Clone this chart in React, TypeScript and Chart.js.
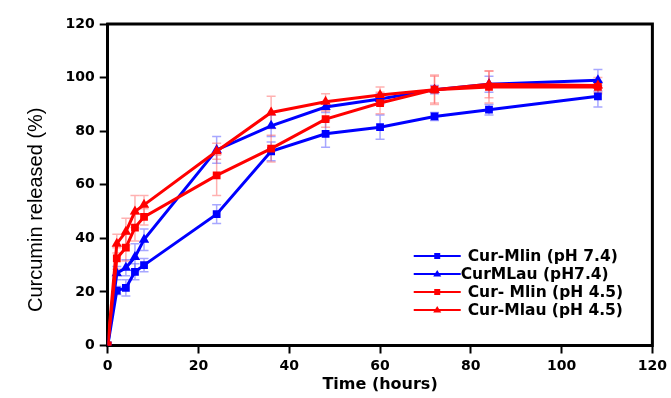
import React, { useEffect, useRef } from "react";
import { Chart, registerables } from "chart.js";

Chart.register(...registerables);

// ---- data ----
const times = [0, 2, 4, 6, 8, 24, 36, 48, 60, 72, 84, 108];
const curMlin74 = [0, 20.5, 21.5, 27.5, 30, 49, 72.5, 79, 81.5, 85.5, 88, 93];
const curMLau74 = [0, 27, 29, 33, 39.5, 73, 82, 89, 92, 95.5, 97.5, 99];
const curMlin45 = [0, 32.5, 36.5, 44, 48, 63.5, 73.5, 84.5, 90.5, 95.5, 96.5, 96.5];
const curMlau45 = [0, 38, 42.5, 50, 52.5, 72.5, 87, 91, 93.5, 95.5, 97.5, 97];

const errMlin74 = [0, 1.5, 3, 3, 2.5, 3.5, 3.5, 5, 4.5, 1.5, 2, 4];
const errMLau74 = [0, 2.5, 3, 5, 4, 5, 4, 2, 2, 1.5, 3, 4];
const errMlin45 = [0, 4, 5, 5, 3, 7.5, 5, 3, 4, 5, 6, 2];
const errMlau45 = [0, 3.5, 5, 6, 3.5, 3, 6, 3, 3, 5.5, 5, 3];

const seriesLabels = [
  "Cur-Mlin (pH 7.4)",
  "CurMLau (pH7.4)",
  "Cur- Mlin (pH 4.5)",
  "Cur-Mlau (pH 4.5)",
];
const xTickValues = [0, 20, 40, 60, 80, 100, 120];
const yTickValues = [0, 20, 40, 60, 80, 100, 120];
const xTitle = "Time (hours)";
const yTitle = "Curcumin released (%)";

const BLUE = "#0000ff";
const RED = "#ff0000";
const legendIndent = [7, 0, 7, 7];

function pts(ys: number[]) {
  return ys.map((y, i) => ({ x: times[i], y }));
}

const errorBarPlugin = {
  id: "errorBars",
  beforeDatasetsDraw(chart: any) {
    const { ctx } = chart;
    const xs = chart.scales.x;
    const ys = chart.scales.y;
    ctx.save();
    chart.data.datasets.forEach((ds: any) => {
      const errs: number[] = ds.errors || [];
      ctx.strokeStyle = ds.errColor;
      ctx.lineWidth = 1.5;
      ds.data.forEach((p: any, j: number) => {
        const e = errs[j];
        if (!e) return;
        const x = xs.getPixelForValue(p.x);
        const yt = ys.getPixelForValue(p.y + e);
        const yb = ys.getPixelForValue(p.y - e);
        ctx.beginPath();
        ctx.moveTo(x, yt);
        ctx.lineTo(x, yb);
        ctx.moveTo(x - 4.5, yt);
        ctx.lineTo(x + 4.5, yt);
        ctx.moveTo(x - 4.5, yb);
        ctx.lineTo(x + 4.5, yb);
        ctx.stroke();
      });
    });
    ctx.restore();
  },
};

const framePlugin = {
  id: "frameAndLegend",
  afterDraw(chart: any) {
    const { ctx, chartArea } = chart;
    const { left, right, top, bottom } = chartArea;
    ctx.save();
    // frame top and right
    ctx.strokeStyle = "#000";
    ctx.lineWidth = 3;
    ctx.beginPath();
    ctx.moveTo(left - 1.5, top);
    ctx.lineTo(right, top);
    ctx.lineTo(right, bottom + 1.5);
    ctx.stroke();

    // y title
    ctx.fillStyle = "#000";
    ctx.font = "20px 'Liberation Sans', Arial, sans-serif";
    ctx.textAlign = "center";
    ctx.textBaseline = "middle";
    ctx.save();
    ctx.translate(36, (top + bottom) / 2 + 25);
    ctx.rotate(-Math.PI / 2);
    ctx.fillText(yTitle, 0, 0);
    ctx.restore();

    // legend
    const lx0 = left + 306;
    const lx1 = left + 353;
    chart.data.datasets.forEach((ds: any, i: number) => {
      const y = top + 232 + i * 18;
      ctx.strokeStyle = ds.borderColor;
      ctx.fillStyle = ds.borderColor;
      ctx.lineWidth = 2;
      ctx.beginPath();
      ctx.moveTo(lx0, y);
      ctx.lineTo(lx1, y);
      ctx.stroke();
      const cx = (lx0 + lx1) / 2;
      ctx.beginPath();
      if (ds.pointStyle === "rect") {
        ctx.rect(cx - 3, y - 3, 6, 6);
      } else {
        ctx.moveTo(cx, y - 4);
        ctx.lineTo(cx + 4, y + 2.5);
        ctx.lineTo(cx - 4, y + 2.5);
        ctx.closePath();
      }
      ctx.fill();
      ctx.fillStyle = "#000";
      ctx.font = "bold 15.5px 'DejaVu Sans', sans-serif";
      ctx.textAlign = "left";
      ctx.textBaseline = "middle";
      ctx.fillText(ds.label, lx1 + legendIndent[i], y + 1);
    });
    ctx.restore();
  },
};

export default function App() {
  const ref = useRef<HTMLCanvasElement | null>(null);
  useEffect(() => {
    document.body.style.margin = "0";
    const canvas = ref.current!;
    const mk = (
      label: string,
      ys: number[],
      errs: number[],
      color: string,
      errColor: string,
      style: string,
      order: number
    ) => ({
      label,
      data: pts(ys),
      errors: errs,
      errColor,
      borderColor: color,
      backgroundColor: color,
      borderWidth: 3,
      pointStyle: style,
      pointRadius: style === "rect" ? 5.5 : 6,
      pointBorderWidth: 0,
      pointBackgroundColor: color,
      tension: 0,
      order,
    });
    const chart = new Chart(canvas, {
      type: "line",
      data: {
        datasets: [
          mk(seriesLabels[0], curMlin74, errMlin74, BLUE, "rgba(60,60,255,0.45)", "rect", 4),
          mk(seriesLabels[1], curMLau74, errMLau74, BLUE, "rgba(60,60,255,0.45)", "triangle", 3),
          mk(seriesLabels[2], curMlin45, errMlin45, RED, "rgba(255,60,60,0.4)", "rect", 2),
          mk(seriesLabels[3], curMlau45, errMlau45, RED, "rgba(255,60,60,0.4)", "triangle", 1),
        ] as any,
      },
      options: {
        animation: false,
        responsive: false,
        devicePixelRatio: 1,
        layout: { padding: { left: 60.5, right: 13.5, top: 24, bottom: 0 } },
        plugins: { legend: { display: false }, tooltip: { enabled: false } },
        scales: {
          x: {
            type: "linear",
            min: 0,
            max: 120,
            afterBuildTicks: (s: any) => {
              s.ticks = xTickValues.map((v) => ({ value: v }));
            },
            afterFit: (s: any) => {
              s.height = 52.5;
            },
            ticks: {
              color: "#000",
              font: { family: "'DejaVu Sans', sans-serif", weight: "bold", size: 14 },
              padding: 4,
              maxRotation: 0,
            },
            grid: {
              drawOnChartArea: false,
              drawTicks: true,
              tickLength: 8,
              tickWidth: 2,
              tickColor: "#000",
            },
            border: { display: true, color: "#000", width: 3 },
            title: {
              display: true,
              text: xTitle,
              color: "#000",
              font: { family: "'DejaVu Sans', sans-serif", weight: "bold", size: 16 },
              padding: { top: 0, bottom: 4 },
            },
          },
          y: {
            type: "linear",
            min: 0,
            max: 120,
            afterBuildTicks: (s: any) => {
              s.ticks = yTickValues.map((v) => ({ value: v }));
            },
            ticks: {
              color: "#000",
              font: { family: "'DejaVu Sans', sans-serif", weight: "bold", size: 14 },
              padding: 5,
            },
            grid: {
              drawOnChartArea: false,
              drawTicks: true,
              tickLength: 8,
              tickWidth: 2,
              tickColor: "#000",
            },
            border: { display: true, color: "#000", width: 3 },
          },
        },
      } as any,
      plugins: [errorBarPlugin, framePlugin],
    });
    return () => chart.destroy();
  }, []);
  return (
    <div style={{ width: 671, height: 398 }}>
      <canvas ref={ref} width={671} height={398} style={{ display: "block" }} />
    </div>
  );
}
